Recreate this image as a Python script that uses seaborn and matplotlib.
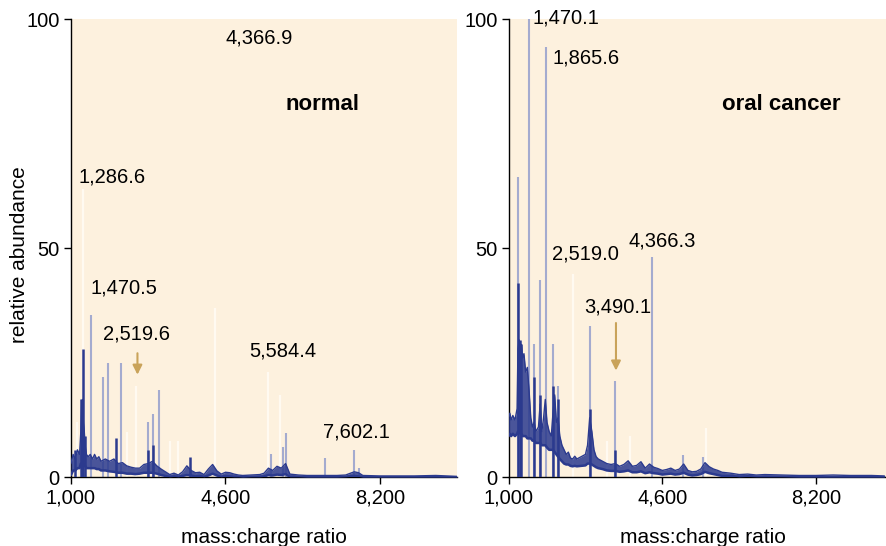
import matplotlib
matplotlib.use("Agg")
import matplotlib.pyplot as plt
import pandas as pd
import seaborn as sns

# ---- data ----
# noisy baseline band: m/z, lower edge, upper edge (relative abundance)
normal_mz = [1000, 1050, 1100, 1150, 1200, 1230, 1250, 1270, 1290, 1310, 1330, 1360, 1400, 1450,
             1500, 1550, 1600, 1650, 1700, 1800, 1900, 2000, 2100, 2200, 2300, 2400, 2500,
             2600, 2700, 2800, 2900, 3000, 3100, 3200, 3300, 3400, 3500, 3600, 3700, 3800,
             3900, 4000, 4100, 4200, 4300, 4400, 4500, 4600, 4700, 4800, 4900, 5000, 5200,
             5400, 5500, 5600, 5700, 5800, 5900, 6000, 6100, 6300, 6500, 6800, 7000, 7200,
             7400, 7600, 7700, 7800, 8200, 9000, 9500, 10000]
normal_lo = [0.5, 1.5, 1.5, 2.0, 2.0, 3.0, 3.0, 3.0, 3.0, 2.5, 2.5, 2.0, 2.0, 2.0,
             2.0, 2.0, 1.8, 1.8, 1.5, 1.5, 1.3, 1.2, 1.0, 1.0, 0.8, 0.8, 0.7,
             0.8, 1.0, 1.0, 1.0, 0.8, 0.5, 0.3, 0.1, 0.2, 0.1, 0.3, 0.5, 0.4,
             0.2, 0.3, 0.1, 0.4, 0.8, 0.4, 0.1, 0.3, 0.2, 0.1, 0.1, 0.0, 0.1,
             0.1, 0.2, 0.5, 0.4, 0.6, 0.5, 0.7, 0.1, 0.1, 0.0, 0.0, 0.0, 0.0,
             0.1, 0.3, 0.2, 0.0, 0.0, 0.0, 0.0, 0.0]
normal_hi = [3.0, 5.0, 4.0, 6.0, 5.0, 10.0, 16.0, 17.0, 12.0, 10.0, 7.0, 5.0, 4.5, 5.0,
             4.0, 5.0, 4.0, 4.5, 3.5, 4.0, 3.5, 4.0, 3.0, 3.2, 2.5, 2.2, 2.0,
             2.0, 2.8, 3.0, 3.5, 2.5, 1.8, 1.2, 0.6, 0.9, 0.5, 1.2, 2.5, 1.5,
             1.0, 1.1, 0.6, 1.8, 2.8, 1.4, 0.7, 1.1, 1.0, 0.7, 0.5, 0.4, 0.5,
             0.6, 0.9, 2.0, 1.5, 2.4, 2.0, 3.0, 0.7, 0.5, 0.4, 0.4, 0.4, 0.4,
             0.5, 1.2, 1.0, 0.4, 0.3, 0.3, 0.4, 0.2]

cancer_mz = [1000, 1030, 1060, 1100, 1150, 1200, 1220, 1250, 1280, 1300, 1330, 1360, 1400, 1440,
             1480, 1520, 1560, 1600, 1640, 1700, 1740, 1780, 1820, 1860, 1900, 1950, 2000,
             2040, 2080, 2120, 2160, 2200, 2250, 2300, 2350, 2400, 2450, 2500, 2550, 2600,
             2700, 2800, 2850, 2900, 2950, 3000, 3050, 3100, 3200, 3300, 3400, 3500, 3600,
             3700, 3800, 3900, 4000, 4100, 4200, 4300, 4400, 4500, 4600, 4700, 4800, 4900,
             5000, 5100, 5200, 5300, 5400, 5500, 5600, 5700, 5800, 5900, 6000, 6200, 6400,
             6600, 6800, 7000, 7400, 7800, 8200, 8600, 9000, 9500, 9800]
cancer_lo = [9.0, 9.5, 9.0, 9.5, 9.0, 9.5, 10.0, 10.0, 9.5, 9.5, 9.0, 9.0, 9.0, 8.5,
             8.5, 8.5, 8.0, 8.0, 7.5, 7.5, 7.5, 7.0, 7.0, 7.0, 6.5, 6.0, 6.0,
             6.0, 5.5, 5.0, 4.5, 4.0, 3.5, 3.0, 2.8, 2.8, 2.5, 2.4, 2.5, 2.4,
             2.5, 2.6, 3.0, 3.0, 2.8, 2.5, 2.2, 2.0, 1.8, 1.5, 1.4, 1.4, 1.2,
             1.3, 1.5, 1.1, 1.1, 1.3, 0.9, 1.1, 0.9, 0.8, 0.6, 0.7, 0.8, 0.6,
             0.7, 1.0, 0.6, 0.4, 0.5, 0.7, 1.2, 0.9, 0.7, 0.5, 0.3, 0.3, 0.1,
             0.2, 0.1, 0.1, 0.1, 0.0, 0.0, 0.0, 0.0, 0.0, 0.0]
cancer_hi = [13.0, 14.0, 12.5, 13.5, 12.5, 15.0, 28.0, 30.0, 28.0, 29.0, 26.0, 27.0, 23.0, 24.0,
             19.0, 13.0, 11.0, 12.0, 10.0, 11.0, 16.0, 10.0, 13.0, 17.0, 12.0, 10.0, 9.0,
             14.0, 18.0, 12.0, 13.0, 9.0, 7.0, 6.0, 5.0, 5.5, 4.2, 4.0, 4.6, 4.0,
             4.5, 5.0, 7.0, 13.0, 10.0, 6.0, 4.5, 4.0, 3.5, 3.0, 2.8, 3.0, 2.4,
             2.8, 3.6, 2.4, 2.6, 3.4, 2.0, 2.9, 2.2, 1.9, 1.5, 1.7, 2.0, 1.5,
             1.8, 2.9, 1.5, 1.2, 1.3, 1.8, 3.2, 2.3, 1.8, 1.5, 1.1, 0.9, 0.6,
             0.7, 0.5, 0.6, 0.5, 0.4, 0.4, 0.5, 0.4, 0.4, 0.3]

# peaks: dark (solid blue), light (faded blue), ghost (near-white)
normal_dark_mz = [1105, 1240, 1260, 1290, 1320, 2053, 2790, 2915, 3784]
normal_dark_h = [6.0, 17.0, 15.0, 28.0, 9.0, 8.5, 6.0, 7.0, 4.4]
normal_light_mz = [1470.5, 1741, 1857, 2170, 2789, 2915, 3046, 5650, 5940, 6021, 6930, 7602.1, 7700]
normal_light_h = [35.5, 22.0, 25.0, 25.0, 12.0, 13.8, 19.0, 5.0, 6.6, 9.7, 4.3, 6.0, 2.0]
normal_ghost_mz = [1150, 1286.6, 2300, 2519.6, 3300, 3500, 4366.9, 5584.4, 5870]
normal_ghost_h = [12.0, 63.0, 10.0, 20.0, 8.0, 8.0, 37.0, 23.0, 18.0]

cancer_dark_mz = [1228, 1265, 1300, 1602, 1728, 2047, 2165, 2914, 3490.1]
cancer_dark_h = [42.5, 30.0, 29.0, 22.0, 18.0, 20.0, 17.0, 15.0, 6.0]
cancer_light_mz = [1228, 1470.1, 1602, 1728, 1865.6, 2047, 2165, 2914, 3490.1, 4366.3, 5093, 5560]
cancer_light_h = [65.6, 100.0, 29.0, 43.0, 94.0, 29.0, 20.0, 33.0, 21.0, 48.0, 4.8, 4.4]
cancer_ghost_mz = [2519.0, 3300, 3850, 5620]
cancer_ghost_h = [44.5, 8.0, 9.0, 10.7]

# labels (text, m/z, abundance)
normal_labels = [("4,366.9", 4600, 96.0), ("1,286.6", 1175, 65.5), ("1,470.5", 1454, 41.3),
                 ("2,519.6", 1757, 31.2), ("5,584.4", 5158, 27.5), ("7,602.1", 6883, 10.0)]
cancer_labels = [("1,470.1", 1571, 100.2), ("1,865.6", 2040, 91.5), ("2,519.0", 2017, 48.7),
                 ("4,366.3", 3799, 51.7), ("3,490.1", 2768, 37.1)]

x_ticks = [1000, 4600, 8200]
x_tick_labels = ["1,000", "4,600", "8,200"]
y_ticks = [0, 50, 100]

# ---- style ----
sns.set_theme(style="ticks", rc={"text.color": "black", "axes.labelcolor": "black",
                                 "xtick.color": "black", "ytick.color": "black"})
plt.rcParams['font.family'] = ['Liberation Sans', 'DejaVu Sans']

BG = "#fdf1de"
DARK = "#2b3a8e"
LIGHT = "#a4abcf"
GHOST = "#fffaf1"
ARROW = "#c9a35a"

fig = plt.figure(figsize=(8.86, 5.46), dpi=100)
ax1 = fig.add_axes([0.0801, 0.1258, 0.436, 0.8388])
ax2 = fig.add_axes([0.574, 0.1258, 0.4338, 0.8388])


def draw_panel(ax, base_mz, lo, hi, dark_mz, dark_h, light_mz, light_h, ghost_mz, ghost_h,
               labels, title, arrow):
    ax.set_facecolor(BG)
    ax.vlines(ghost_mz, 0, ghost_h, color=GHOST, lw=1.6, zorder=1)
    ax.vlines(light_mz, 0, light_h, color=LIGHT, lw=1.5, zorder=2)
    ax.fill_between(base_mz, lo, hi, color=DARK, alpha=0.85, lw=0, zorder=3)
    df = pd.DataFrame({"mz": base_mz, "lo": lo, "hi": hi})
    sns.lineplot(data=df, x="mz", y="lo", ax=ax, color=DARK, lw=1.8,
                 estimator=None, sort=False, zorder=3)
    sns.lineplot(data=df, x="mz", y="hi", ax=ax, color=DARK, lw=1.0,
                 estimator=None, sort=False, zorder=3)
    ax.vlines(dark_mz, 0, dark_h, color=DARK, lw=1.8, zorder=4)

    for txt, x, y in labels:
        ax.text(x, y, txt, fontsize=14.5, color="black", ha="left", va="center", zorder=5)
    ax.text(6000, 81.4, title, fontsize=16, fontweight="bold", color="black",
            ha="left", va="center")
    ax.annotate("", xy=(arrow[0], arrow[2]), xytext=(arrow[0], arrow[1]),
                arrowprops=dict(arrowstyle="-|>", color=ARROW, lw=1.5, mutation_scale=14))

    ax.set_xlim(1000, 10000)
    ax.set_ylim(0, 100)
    ax.set_xticks(x_ticks)
    ax.set_xticklabels(x_tick_labels)
    ax.set_yticks(y_ticks)
    ax.set_xlabel("")
    ax.set_ylabel("")
    ax.tick_params(direction="out", length=5, width=1, colors="black", labelsize=14.5, pad=3)
    for side in ["top", "right"]:
        ax.spines[side].set_visible(False)
    for side in ["left", "bottom"]:
        ax.spines[side].set_color("black")
        ax.spines[side].set_linewidth(1)


draw_panel(ax1, normal_mz, normal_lo, normal_hi, normal_dark_mz, normal_dark_h, normal_light_mz,
           normal_light_h, normal_ghost_mz, normal_ghost_h, normal_labels, "normal",
           (2549, 27.7, 21.8))
draw_panel(ax2, cancer_mz, cancer_lo, cancer_hi, cancer_dark_mz, cancer_dark_h, cancer_light_mz,
           cancer_light_h, cancer_ghost_mz, cancer_ghost_h, cancer_labels, "oral cancer",
           (3515, 34.3, 22.7))

fig.text(20 / 886, 1 - 255 / 546, "relative abundance", rotation=90, fontsize=15,
         color="black", ha="center", va="center")
fig.text(264 / 886, 1 - 543 / 546, "mass:charge ratio", fontsize=15, color="black",
         ha="center", va="baseline")
fig.text(703 / 886, 1 - 543 / 546, "mass:charge ratio", fontsize=15, color="black",
         ha="center", va="baseline")

fig.savefig("out.png", dpi=100)
